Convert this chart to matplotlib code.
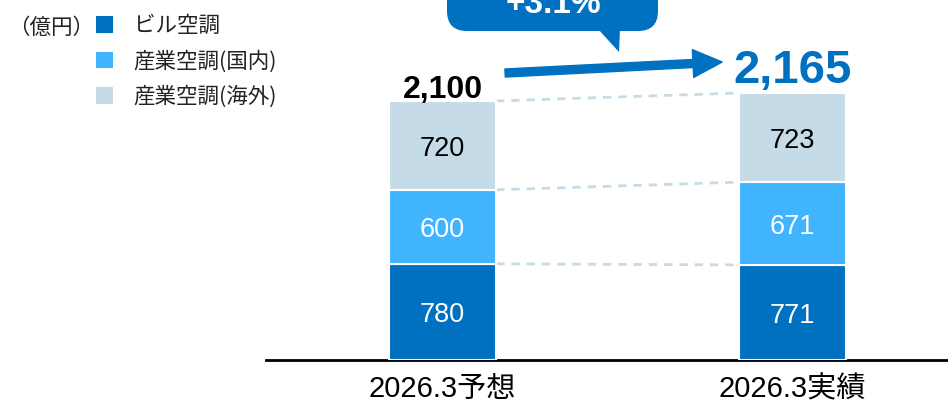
import matplotlib
matplotlib.use("Agg")
import matplotlib.pyplot as plt
from matplotlib.patches import Patch, FancyBboxPatch, Polygon, FancyArrowPatch

plt.rcParams['font.family'] = ['Liberation Sans', 'Noto Sans CJK JP', 'DejaVu Sans']

categories = ['2026.3予想', '2026.3実績']
legend_labels = ['ビル空調', '産業空調(国内)', '産業空調(海外)']
building = [780, 771]
ind_domestic = [600, 671]
ind_overseas = [720, 723]
totals = [2100, 2165]
unit_label = '（億円）'

colors = ['#0070C0', '#41B4FF', '#C5DCE8']
text_colors = ['white', 'white', 'black']
series = [building, ind_domestic, ind_overseas]

fig = plt.figure(figsize=(9.48, 4.03), dpi=100)
ax = fig.add_axes([266 / 948, 43 / 403, 682 / 948, 360 / 403])

x = [0, 1]
w = 0.306
bottoms = [0, 0]
levels = []
for vals, c, tc in zip(series, colors, text_colors):
    ax.bar(x, vals, w, bottom=bottoms, color=c, edgecolor='white', linewidth=1.5, zorder=3)
    for xi, v, b in zip(x, vals, bottoms):
        ax.text(xi, b + v / 2 - 28, f'{v:,}', ha='center', va='center', fontsize=19.5, color=tc, zorder=4)
    bottoms = [b + v for b, v in zip(bottoms, vals)]
    levels.append(list(bottoms))

# dashed connectors between segment tops
for lv in levels:
    ax.plot([x[0] + w / 2, x[1] - w / 2], lv, ls=(0, (3, 2.5)), color='#C5DCE8', lw=2, zorder=2)

ax.text(x[0], totals[0] + 25, f'{totals[0]:,}', ha='center', va='baseline',
        fontsize=23, fontweight='bold', color='black')
ax.text(x[1], totals[1] + 80, f'{totals[1]:,}', ha='center', va='baseline',
        fontsize=34, fontweight='bold', color='#0070C0')

arrow = FancyArrowPatch((0.179, totals[0] + 227), (0.800, totals[1] + 251),
                        arrowstyle='simple,head_width=2.0,head_length=2.1,tail_width=0.58',
                        mutation_scale=10, color='#0070C0', shrinkA=0, shrinkB=0, zorder=5)
ax.add_patch(arrow)

ax.set_xlim(-0.505, 1.446)
ax.set_ylim(0, 2919)
ax.set_xticks(x)
ax.set_xticklabels(categories, fontsize=21)
ax.tick_params(axis='x', length=0, pad=11)
ax.set_yticks([])
for s in ['left', 'right', 'top']:
    ax.spines[s].set_visible(False)
ax.spines['bottom'].set_linewidth(2)
ax.spines['bottom'].set_color('black')

# callout bubble
ov = fig.add_axes([0, 0, 1, 1])
ov.set_xlim(0, 948)
ov.set_ylim(403, 0)
ov.axis('off')
ov.add_patch(FancyBboxPatch((447, -30), 211, 61, boxstyle='round,pad=0,rounding_size=20',
                            fc='#0070C0', ec='none'))
ov.add_patch(Polygon([(598, 29), (620, 29), (619, 52)], closed=True, fc='#0070C0', ec='none'))
growth = (totals[1] / totals[0] - 1) * 100
ov.text(553, 13, f'+{growth:.1f}%', ha='center', va='baseline', fontsize=24,
        fontweight='bold', color='white')

handles = [Patch(facecolor=c, edgecolor='none') for c in colors]
fig.legend(handles, legend_labels, loc='upper left', bbox_to_anchor=(96 / 948, 1 - 15 / 403),
           frameon=False, prop={'family': ['Noto Sans CJK JP'], 'size': 15.5},
           handlelength=0.8, handleheight=0.8, labelcolor='#222222',
           handletextpad=0.95, labelspacing=0.6, borderpad=0, borderaxespad=0)
fig.text(8 / 948, 1 - 28 / 403, unit_label, ha='left', va='center', fontsize=15.5,
         family=['Noto Sans CJK JP'], color='#222222')

fig.savefig('out.png', dpi=100)
